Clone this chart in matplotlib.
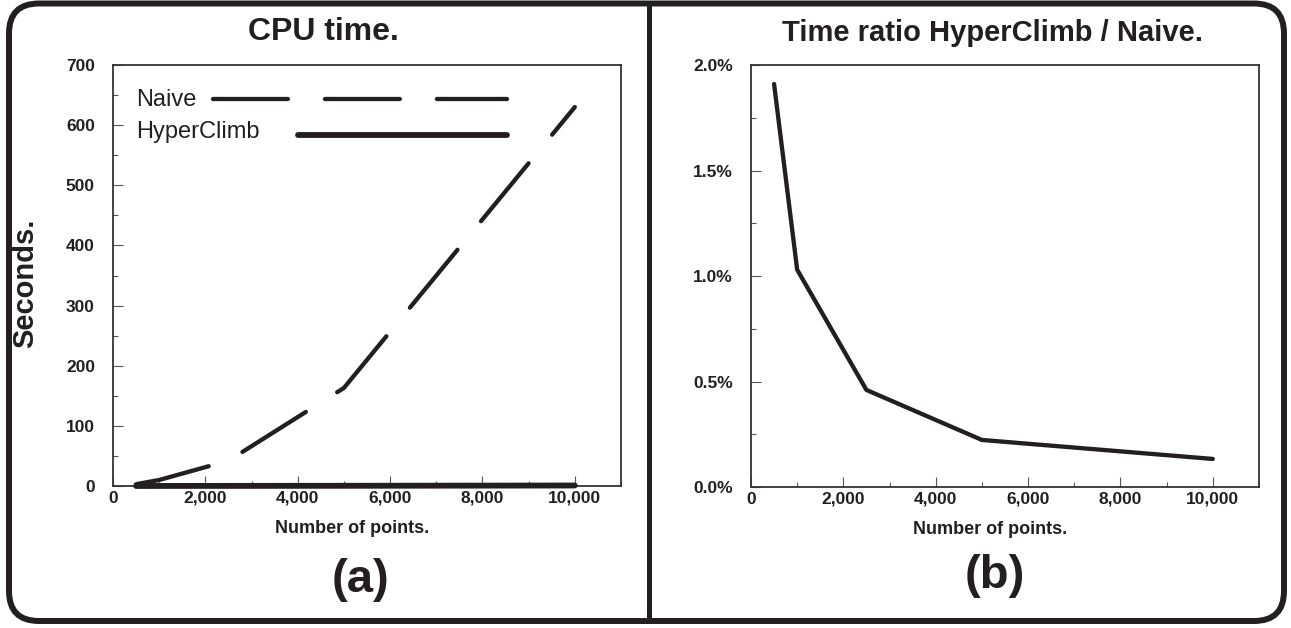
import matplotlib.pyplot as plt
import matplotlib.patches as mpatches
from matplotlib.lines import Line2D
from matplotlib.transforms import IdentityTransform
from matplotlib.ticker import MultipleLocator, FuncFormatter, PercentFormatter

# values
points = [500, 1000, 2500, 5000, 10000]
naive_sec = [3, 10, 42, 163, 630]
hyperclimb_sec = [0.06, 0.10, 0.19, 0.36, 0.84]
ratio = [0.0191, 0.0103, 0.0046, 0.00223, 0.00133]

plt.rcParams['font.family'] = ['Liberation Sans', 'DejaVu Sans']
plt.rcParams['font.weight'] = 'bold'
plt.rcParams['axes.labelweight'] = 'bold'

ink = '#231f20'
fig = plt.figure(figsize=(12.91, 6.28), dpi=100)

ax1 = fig.add_axes([0.0875, 0.2261, 0.3935, 0.6704])
ax2 = fig.add_axes([0.5817, 0.2245, 0.3935, 0.6720])

# (a) CPU time
ax1.plot(points, naive_sec, color=ink, lw=3.1, dashes=(17.4, 8.6),
         dash_capstyle='round', dash_joinstyle='round', clip_on=False, zorder=3)
ax1.plot(points, hyperclimb_sec, color=ink, lw=4.2, solid_capstyle='round',
         clip_on=False, zorder=4)
ax1.set_ylim(0, 700)
ax1.yaxis.set_major_locator(MultipleLocator(100))
ax1.yaxis.set_minor_locator(MultipleLocator(50))

# hand-made legend like the original
ax1.text(0.0453, 0.9026, 'Naive', transform=ax1.transAxes, fontsize=17,
         fontweight='normal', va='baseline', color=ink)
ax1.text(0.0453, 0.8266, 'HyperClimb', transform=ax1.transAxes, fontsize=17,
         fontweight='normal', va='baseline', color=ink)
ax1.plot([0.197, 0.7756], [0.9192, 0.9192], transform=ax1.transAxes, color=ink,
         lw=3.1, dashes=(17.4, 8.6), dash_capstyle='round')
ax1.plot([0.364, 0.7756], [0.8337, 0.8337], transform=ax1.transAxes, color=ink,
         lw=4.2, solid_capstyle='round')

ax1.set_xlabel('Number of points.', fontsize=13, fontweight='bold', color=ink)
ax1.xaxis.label.set_va('baseline')
ax1.xaxis.set_label_coords(0.4705, -0.1116)
ax1.set_ylabel('Seconds.', fontsize=21, fontweight='bold', color=ink, va='center')
ax1.yaxis.set_label_coords(-0.1732, 0.482)

# (b) ratio
ax2.plot(points, ratio, color=ink, lw=3.1, solid_capstyle='round',
         solid_joinstyle='round', zorder=3)
ax2.set_ylim(0, 0.02)
ax2.yaxis.set_major_locator(MultipleLocator(0.005))
ax2.yaxis.set_minor_locator(MultipleLocator(0.0025))
ax2.yaxis.set_major_formatter(PercentFormatter(1.0, decimals=1))
ax2.set_xlabel('Number of points.', fontsize=13, fontweight='bold', color=ink)
ax2.xaxis.label.set_va('baseline')
ax2.xaxis.set_label_coords(0.4705, -0.1116)

for ax in (ax1, ax2):
    ax.set_xlim(0, 11000)
    ax.xaxis.set_major_locator(MultipleLocator(2000))
    ax.xaxis.set_minor_locator(MultipleLocator(1000))
    ax.xaxis.set_major_formatter(FuncFormatter(lambda v, p: f'{v:,.0f}'))
    ax.tick_params(which='both', direction='in', top=False, right=False,
                   color='#555555', width=0.8, labelcolor=ink, labelsize=12.5)
    ax.tick_params(which='major', length=7)
    ax.tick_params(which='minor', length=3.6)
    ax.tick_params(axis='y', pad=13)
    ax.tick_params(axis='x', pad=3.5)
    for s in ax.spines.values():
        s.set_color('#333333')
        s.set_linewidth(1.3)

fig.text(0.2502, 0.9363, 'CPU time.', fontsize=23, ha='center', va='baseline', color=ink)
fig.text(0.7684, 0.9347, 'Time ratio HyperClimb / Naive.', fontsize=21, ha='center',
         va='baseline', color=ink)
fig.text(0.2789, 0.0764, '(a)', fontsize=34, ha='center', va='center', color=ink)
fig.text(0.7707, 0.0828, '(b)', fontsize=34, ha='center', va='center', color=ink)

# rounded outer frame and divider, in pixels
frame = mpatches.FancyBboxPatch((9, 7), 1275, 617.5,
                                boxstyle='round,pad=0,rounding_size=30',
                                transform=IdentityTransform(), fill=False,
                                lw=4.3, ec=ink)
fig.add_artist(frame)
fig.add_artist(Line2D([649, 649], [7, 624.5], transform=IdentityTransform(),
                      lw=3.6, color=ink))

fig.savefig('out.png', dpi=100)
